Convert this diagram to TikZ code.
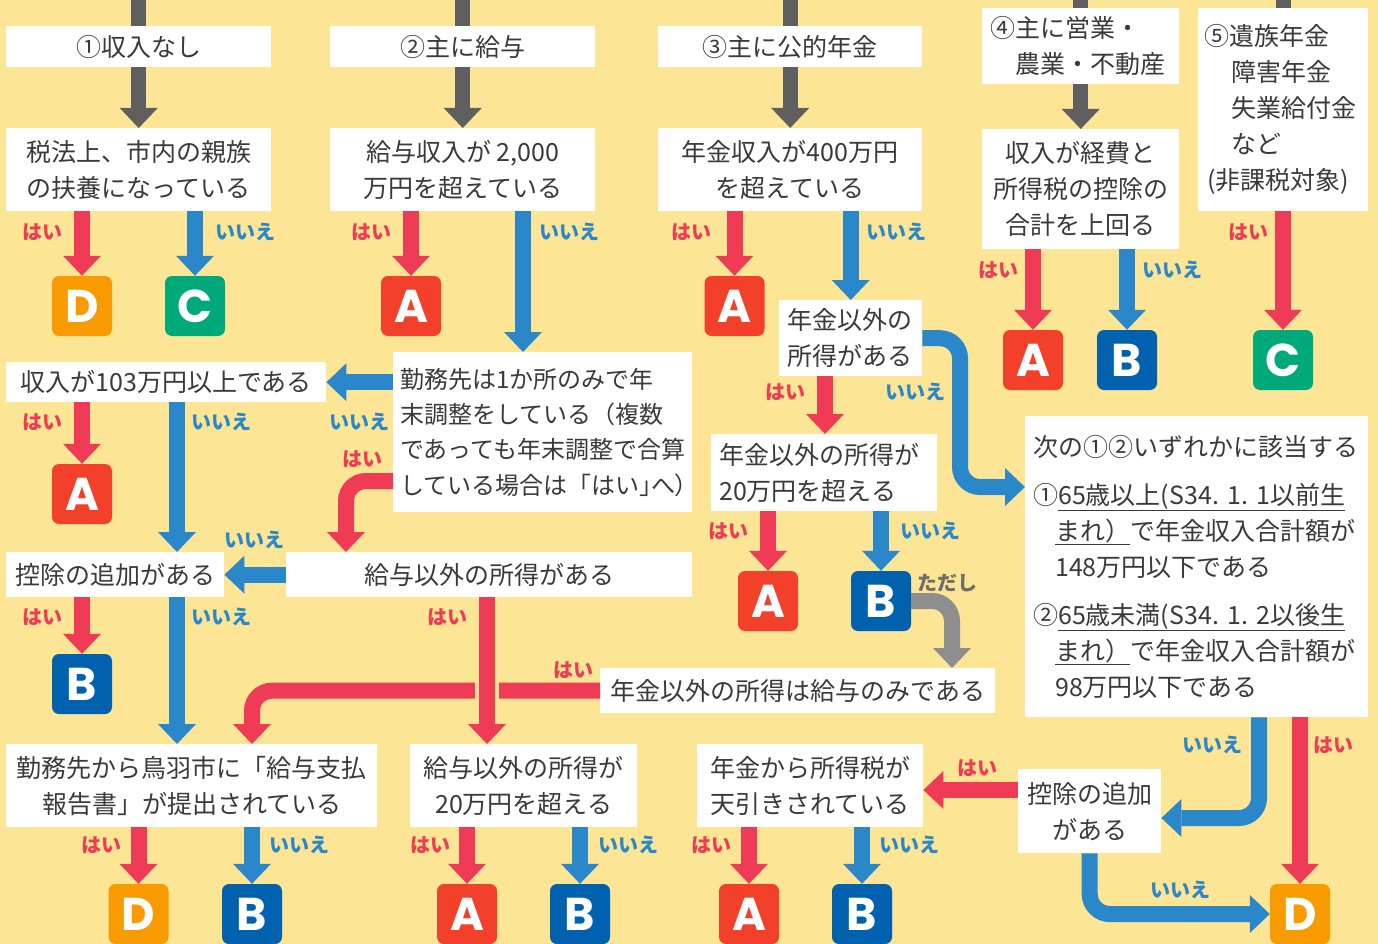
\documentclass[tikz,border=0pt]{standalone}
\usepackage{fontspec}
\usetikzlibrary{arrows.meta,calc}
\newfontfamily\jp{Noto Sans CJK JP}
\newfontfamily\jpp{Noto Sans CJK JP}[RawFeature=+palt]
\newfontfamily\ltr{Poppins}
\frenchspacing
\definecolor{bgc}{HTML}{FCE594}
\definecolor{txtc}{HTML}{3A3A3A}
\definecolor{pinkc}{HTML}{EF3B56}
\definecolor{bluec}{HTML}{2A87CA}
\definecolor{grayc}{HTML}{5F5F5F}
\definecolor{lgrayc}{HTML}{8E8E8E}
\definecolor{tadac}{HTML}{6E6E6E}
\definecolor{resA}{HTML}{F2402B}
\definecolor{resB}{HTML}{0062AF}
\definecolor{resC}{HTML}{00A97A}
\definecolor{resD}{HTML}{F79B00}
\tikzset{
  tbox/.style={fill=white, inner sep=0pt, anchor=north west, text=txtc, align=center, font=\jp\fontsize{25}{36}\selectfont},
  lbox/.style={tbox, align=left},
  arr/.style={line width=16pt, -{Triangle[width=38pt,length=20pt,line width=0pt]}},
  pk/.style={arr, color=pinkc},
  bl/.style={arr, color=bluec},
  gr/.style={arr, color=grayc, line width=15pt},
  lg/.style={arr, color=lgrayc},
  grline/.style={draw=grayc, line width=15pt},
  rc/.style={rounded corners=20pt},
  lab/.style={font=\jp\bfseries\fontsize{20}{20}\selectfont, inner sep=0pt},
  lyes/.style={lab, text=pinkc},
  lno/.style={lab, text=bluec},
  rbox/.style={minimum size=60pt, inner sep=0pt, rounded corners=7pt, text=white, font=\ltr\bfseries\fontsize{46}{46}\selectfont},
  rA/.style={rbox, fill=resA},
  rB/.style={rbox, fill=resB},
  rC/.style={rbox, fill=resC},
  rD/.style={rbox, fill=resD},
}
\begin{document}
\begin{tikzpicture}[x=1pt,y=-1pt]
\useasboundingbox (0,0) rectangle (1378,944);
\fill[bgc] (0,0) rectangle (1378,944);
\coordinate (top) at (0,0);

% boxes
\node[tbox, minimum width=265pt, minimum height=41pt] (t1) at (6,26) {①収入なし};
\node[tbox, minimum width=265pt, minimum height=41pt] (t2) at (330,26) {②主に給与};
\node[tbox, minimum width=264pt, minimum height=41pt] (t3) at (658,26) {③主に公的年金};
\node[lbox, minimum width=197pt, minimum height=76pt, text width=181pt, inner xsep=8pt] (t4) at (982,8) {④主に営業・\\\hspace*{25pt}農業・不動産};
\node[lbox, minimum width=170pt, minimum height=203pt, text width=158pt, inner xsep=6pt] (t5) at (1198,8) {⑤遺族年金\\\hspace*{27pt}障害年金\\\hspace*{27pt}失業給付金\\\hspace*{27pt}など\\\hspace*{3pt}(非課税対象)};

\node[tbox, minimum width=265pt, minimum height=83pt] (q1) at (6,128) {税法上、市内の親族\\の扶養になっている};
\node[tbox, minimum width=265pt, minimum height=83pt] (q2) at (330,128) {給与収入が 2,000\\万円を超えている};
\node[tbox, minimum width=264pt, minimum height=83pt] (q3) at (658,128) {年金収入が400万円\\を超えている};
\node[tbox, minimum width=197pt, minimum height=120pt] (q4) at (982,129) {収入が経費と\\所得税の控除の\\合計を上回る};
\node[lbox, minimum width=143pt, minimum height=76pt, text width=127pt, inner xsep=8pt] (q5) at (779,300) {年金以外の\\所得がある};
\node[tbox, minimum width=320pt, minimum height=40pt] (q6) at (6,362) {収入が103万円以上である};
\node[lbox, minimum width=299pt, minimum height=160pt, text width=285pt, inner xsep=7pt, font=\jp\fontsize{24}{35.3}\selectfont] (q7) at (393,352) {勤務先は1か所のみで年\\末調整をしている（複数\\であっても年末調整で合算\\している場合は「はい{\jpp」}へ{\jpp）}};
\node[lbox, minimum width=343pt, minimum height=301pt, text width=327pt, inner xsep=8pt] (q8) at (1025,416) {次の①②いずれかに該当する\\[12pt]①\underline{65歳以上(S34. 1. 1以前生}\\\hspace*{22pt}\underline{まれ）}で年金収入合計額が\\\hspace*{22pt}148万円以下である\\[12pt]②\underline{65歳未満(S34. 1. 2以後生}\\\hspace*{22pt}\underline{まれ）}で年金収入合計額が\\\hspace*{22pt}98万円以下である};
\node[lbox, minimum width=226pt, minimum height=77pt, text width=210pt, inner xsep=8pt] (q9) at (711,434) {年金以外の所得が\\20万円を超える};
\node[tbox, minimum width=406pt, minimum height=45pt] (q10) at (286,552) {給与以外の所得がある};
\node[tbox, minimum width=218pt, minimum height=45pt] (q11) at (6,552) {控除の追加がある};
\node[tbox, minimum width=395pt, minimum height=45pt] (q12) at (600,668) {年金以外の所得は給与のみである};
\node[tbox, minimum width=371pt, minimum height=83pt] (q13) at (6,744) {勤務先から鳥羽市に「給与支払\\報告書」が提出されている};
\node[tbox, minimum width=227pt, minimum height=83pt] (q14) at (410,744) {給与以外の所得が\\20万円を超える};
\node[tbox, minimum width=226pt, minimum height=83pt] (q15) at (697,744) {年金から所得税が\\天引きされている};
\node[tbox, minimum width=143pt, minimum height=84pt] (q16) at (1018,769) {控除の追加\\がある};

% results
\node[rD] (r1) at (82,306) {D};
\node[rC] (r2) at (195,306) {C};
\node[rA] (r3) at (411,306) {A};
\node[rA] (r4) at (734.5,306) {A};
\node[rA] (r5) at (1033,360) {A};
\node[rB] (r6) at (1127,360) {B};
\node[rC] (r7) at (1283,360) {C};
\node[rA] (r8) at (82,494) {A};
\node[rB] (r9) at (82,684) {B};
\node[rA] (r10) at (768,601) {A};
\node[rB] (r11) at (881,601) {B};
\node[rD] (r12) at (138.5,914) {D};
\node[rB] (r13) at (252,914) {B};
\node[rA] (r14) at (467,914) {A};
\node[rB] (r15) at (580,914) {B};
\node[rA] (r16) at (749,914) {A};
\node[rB] (r17) at (862,914) {B};
\node[rD] (r18) at (1300,914) {D};

% gray connectors
\draw[grline] (t1.north |- top) -- (t1.north);
\draw[grline] (t2.north |- top) -- (t2.north);
\draw[grline] (t3.north |- top) -- (t3.north);
\draw[grline] (t4.north |- top) -- (t4.north);
\draw[grline] (t5.north |- top) -- (t5.north);
\draw[gr] (t1.south) -- (q1.north);
\draw[gr] (t2.south) -- (q2.north);
\draw[gr] (t3.south) -- (q3.north);
\draw[gr] (t4.south) -- (q4.north);

% decisions
\draw[pk] (q1.south -| r1.north) -- (r1.north);
\draw[bl] (q1.south -| r2.north) -- (r2.north);
\draw[pk] (q2.south -| r3.north) -- (r3.north);
\draw[bl] ($(q2.south west)+(193,0)$) -- ($(q7.north west)+(130,0)$);
\draw[pk] (q3.south -| r4.north) -- (r4.north);
\draw[bl] (q3.south -| q5.north) -- (q5.north);
\draw[pk] (q4.south -| r5.north) -- (r5.north);
\draw[bl] (q4.south -| r6.north) -- (r6.north);
\draw[pk] (t5.south -| r7.north) -- (r7.north);
\draw[pk] ($(q5.south west)+(46,0)$) -- ($(q9.north west)+(114,0)$);
\draw[bl, rc] (q5.east) -| ($(q8.north west)+(-65,71)$) -- ($(q8.north west)+(0,71)$);
\draw[pk] (q6.south -| r8.north) -- (r8.north);
\draw[bl] ($(q6.south west)+(171,0)$) -- ($(q11.north west)+(171,0)$);
\draw[bl] (q6.east -| q7.west) -- (q6.east);
\draw[pk, rc] ($(q7.north west)+(0,129)$) -| ($(q10.north west)+(60,0)$);
\draw[bl] (q10.west) -- (q11.east);
\draw[pk] (q9.south -| r10.north) -- (r10.north);
\draw[bl] (q9.south -| r11.north) -- (r11.north);
\draw[lg, rc] (r11.east) -| ($(q12.north west)+(352,0)$);
\draw[pk] (q11.south -| r9.north) -- (r9.north);
\draw[bl] ($(q11.south west)+(171,0)$) -- ($(q13.north west)+(171,0)$);
\draw[pk, rc] (q12.west) -| ($(q13.north west)+(246,0)$);
\draw[pk, preaction={draw=bgc, line width=24pt, arrows=-}] ($(q10.south west)+(201,0)$) -- ($(q14.north west)+(77,0)$);
\draw[pk] (q13.south -| r12.north) -- (r12.north);
\draw[bl] (q13.south -| r13.north) -- (r13.north);
\draw[pk] (q14.south -| r14.north) -- (r14.north);
\draw[bl] (q14.south -| r15.north) -- (r15.north);
\draw[pk] (q15.south -| r16.north) -- (r16.north);
\draw[bl] (q15.south -| r17.north) -- (r17.north);
\draw[pk] ($(q16.north west)+(0,21)$) -- ($(q15.north east)+(0,46)$);
\draw[bl, rc] ($(q8.south west)+(234,0)$) |- ($(q16.north east)+(0,49)$);
\draw[pk] (q8.south -| r18.north) -- (r18.north);
\draw[bl, rc] (q16.south) |- (r18.west);

% labels
\node[lyes] (l1) at (42,232) {はい};
\node[lno] (l2) at (245,232) {いいえ};
\node[lyes] (l3) at (371,232) {はい};
\node[lno] (l4) at (569,232) {いいえ};
\node[lyes] (l5) at (691,232) {はい};
\node[lno] (l6) at (896,232) {いいえ};
\node[lyes] (l7) at (998,270) {はい};
\node[lno] (l8) at (1172,270) {いいえ};
\node[lyes] (l9) at (1248,232) {はい};
\node[lyes] (l10) at (785,392) {はい};
\node[lno] (l11) at (915,392) {いいえ};
\node[lyes] (l12) at (42,422) {はい};
\node[lno] (l13) at (221,422) {いいえ};
\node[lno] (l14) at (359,422) {いいえ};
\node[lyes] (l15) at (362,459) {はい};
\node[lno] (l16) at (254,540) {いいえ};
\node[lyes] (l17) at (728,531) {はい};
\node[lno] (l18) at (930,531) {いいえ};
\node[lab, text=tadac] (l19) at (947,583) {ただし};
\node[lyes] (l20) at (42,617) {はい};
\node[lno] (l21) at (221,617) {いいえ};
\node[lyes] (l22) at (447,617) {はい};
\node[lyes] (l23) at (573,670) {はい};
\node[lno] (l24) at (1212,745) {いいえ};
\node[lyes] (l25) at (1333,745) {はい};
\node[lyes] (l26) at (977,768) {はい};
\node[lyes] (l27) at (101,845) {はい};
\node[lno] (l28) at (299,845) {いいえ};
\node[lyes] (l29) at (430,845) {はい};
\node[lno] (l30) at (628,845) {いいえ};
\node[lyes] (l31) at (711,845) {はい};
\node[lno] (l32) at (909,845) {いいえ};
\node[lno] (l33) at (1180,890) {いいえ};
\end{tikzpicture}
\end{document}
